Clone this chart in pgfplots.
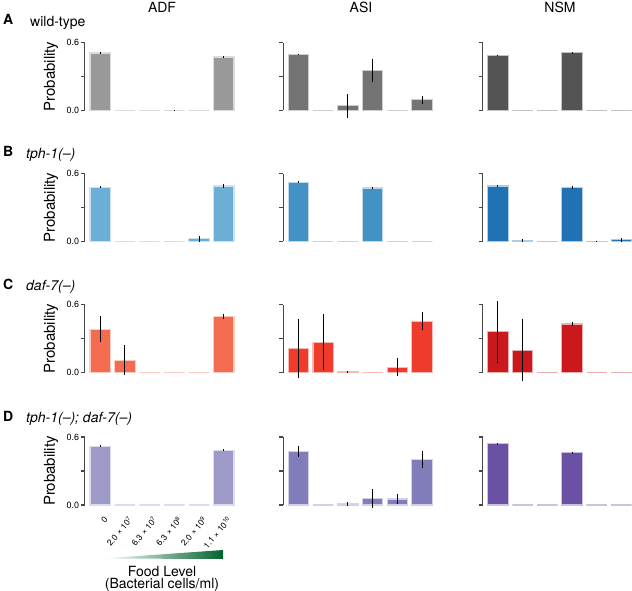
\documentclass[border=0pt]{standalone}
\usepackage{pgfplots}
\pgfplotsset{compat=1.18}
\usepackage{pgfplotstable}
\usepackage{fontspec}
\setmainfont{TeX Gyre Heros}

\definecolor{cAa}{RGB}{153,153,153}
\definecolor{cAb}{RGB}{116,116,116}
\definecolor{cAc}{RGB}{84,84,84}
\definecolor{cBa}{RGB}{107,174,214}
\definecolor{cBb}{RGB}{66,146,198}
\definecolor{cBc}{RGB}{33,113,181}
\definecolor{cCa}{RGB}{244,108,80}
\definecolor{cCb}{RGB}{239,59,44}
\definecolor{cCc}{RGB}{203,24,29}
\definecolor{cDa}{RGB}{158,154,200}
\definecolor{cDb}{RGB}{128,125,186}
\definecolor{cDc}{RGB}{106,81,163}
\definecolor{wedgegreen}{RGB}{0,100,45}

% Row A: wild-type
\pgfplotstableread{
x y e
0 0.507 0.005
1 0 0
2 0 0
3 0 0.004
4 0 0
5 0.472 0.005
}\tAa
\pgfplotstableread{
x y e
0 0.496 0.006
1 0 0
2 0.042 0.105
3 0.353 0.104
4 0 0
5 0.095 0.036
}\tAb
\pgfplotstableread{
x y e
0 0.487 0.005
1 0 0
2 0 0
3 0.511 0.005
4 0 0
5 0 0
}\tAc
% Row B: tph-1
\pgfplotstableread{
x y e
0 0.480 0.007
1 0 0
2 0 0
3 0 0
4 0.024 0.025
5 0.490 0.015
}\tBa
\pgfplotstableread{
x y e
0 0.524 0.006
1 0 0
2 0 0
3 0.472 0.008
4 0 0
5 0 0
}\tBb
\pgfplotstableread{
x y e
0 0.490 0.008
1 0.010 0.010
2 0 0
3 0.476 0.012
4 0.003 0.005
5 0.015 0.015
}\tBc
% Row C: daf-7
\pgfplotstableread{
x y e
0 0.382 0.116
1 0.108 0.133
2 0 0
3 0 0
4 0 0
5 0.495 0.025
}\tCa
\pgfplotstableread{
x y e
0 0.213 0.259
1 0.268 0.250
2 0.005 0.010
3 0 0
4 0.047 0.080
5 0.454 0.078
}\tCb
\pgfplotstableread{
x y e
0 0.358 0.270
1 0.198 0.277
2 0 0
3 0.428 0.015
4 0 0
5 0 0
}\tCc
% Row D: tph-1; daf-7
\pgfplotstableread{
x y e
0 0.518 0.010
1 0 0
2 0 0
3 0 0
4 0 0
5 0.483 0.010
}\tDa
\pgfplotstableread{
x y e
0 0.474 0.050
1 0 0
2 0.009 0.015
3 0.055 0.085
4 0.053 0.046
5 0.401 0.073
}\tDb
\pgfplotstableread{
x y e
0 0.539 0.006
1 0 0
2 0 0
3 0.463 0.006
4 0 0
5 0 0
}\tDc

\pgfplotsset{
  panel/.style={
    scale only axis, width=151.2pt, height=68pt,
    xmin=-0.62, xmax=5.5, ymin=0, ymax=0.6,
    clip=false,
    axis y line*=left, axis x line*=bottom,
    x axis line style={draw=none},
    y axis line style={-, draw=black!72, line width=1.1pt},
    xtick=\empty,
    xtick style={draw=none},
    ytick={0,0.3,0.6}, yticklabels={},
    tick align=outside, major tick length=4pt,
    ytick style={draw=black!72, line width=1.1pt},
    yticklabel style={font=\fontsize{9}{10}\selectfont, inner sep=1.5pt},
    ybar, bar width=20.5pt,
    anchor=south west,
  },
}

\newcommand{\panel}[4]{%
\begin{axis}[panel, at={#1}, #4]
\addplot[fill=#2, draw=#2!35!white, line width=1.1pt,
  error bars/.cd, y dir=both, y explicit, error mark=none,
  error bar style={black, line width=1pt}]
  table[x=x, y=y, y error=e] {#3};
\end{axis}}

\begin{document}
\begin{tikzpicture}
\useasboundingbox (0pt,0pt) rectangle (632pt,-591pt);

% column titles
\node[anchor=base, font=\fontsize{14}{16}\selectfont] at (162pt,-13pt) {ADF};
\node[anchor=base, font=\fontsize{14}{16}\selectfont] at (361pt,-13pt) {ASI};
\node[anchor=base, font=\fontsize{14}{16}\selectfont] at (560pt,-13pt) {NSM};

% row labels
\node[anchor=base west, inner sep=0, font=\fontsize{14}{16}\selectfont\bfseries] at (3pt,-25pt) {A};
\node[anchor=base west, inner sep=0, font=\fontsize{14}{16}\selectfont] at (30pt,-27pt) {wild-type};
\node[anchor=base west, inner sep=0, font=\fontsize{14}{16}\selectfont\bfseries] at (3pt,-157pt) {B};
\node[anchor=base west, inner sep=0, font=\fontsize{14}{16}\selectfont\itshape] at (26pt,-158pt) {tph-1(–)};
\node[anchor=base west, inner sep=0, font=\fontsize{14}{16}\selectfont\bfseries] at (3pt,-289pt) {C};
\node[anchor=base west, inner sep=0, font=\fontsize{14}{16}\selectfont\itshape] at (26pt,-290pt) {daf-7(–)};
\node[anchor=base west, inner sep=0, font=\fontsize{14}{16}\selectfont\bfseries] at (3pt,-421pt) {D};
\node[anchor=base west, inner sep=0, font=\fontsize{14}{16}\selectfont\itshape] at (26pt,-422pt) {tph-1(–); daf-7(–)};

% Probability labels
\node[rotate=90, font=\fontsize{15}{17}\selectfont] at (51pt,-76.5pt) {Probability};
\node[rotate=90, font=\fontsize{15}{17}\selectfont] at (51pt,-207.5pt) {Probability};
\node[rotate=90, font=\fontsize{15}{17}\selectfont] at (51pt,-338.5pt) {Probability};
\node[rotate=90, font=\fontsize{15}{17}\selectfont] at (51pt,-471pt) {Probability};

% Row A
\panel{(84.9pt,-110.5pt)}{cAa}{\tAa}{yticklabels={0.0,,0.6}}
\panel{(283.2pt,-110.5pt)}{cAb}{\tAb}{}
\panel{(482.6pt,-110.5pt)}{cAc}{\tAc}{}
% Row B
\panel{(84.9pt,-241.5pt)}{cBa}{\tBa}{yticklabels={0.0,,0.6}}
\panel{(283.2pt,-241.5pt)}{cBb}{\tBb}{}
\panel{(482.6pt,-241.5pt)}{cBc}{\tBc}{}
% Row C
\panel{(84.9pt,-372.5pt)}{cCa}{\tCa}{yticklabels={0.0,,0.6}}
\panel{(283.2pt,-372.5pt)}{cCb}{\tCb}{}
\panel{(482.6pt,-372.5pt)}{cCc}{\tCc}{}
% Row D
\panel{(84.9pt,-505pt)}{cDa}{\tDa}{yticklabels={0.0,,0.6},
  xtick={0,1,2,3,4,5},
  xticklabels={0, 2.0 × 10\textsuperscript{7}, 6.3 × 10\textsuperscript{7}, 6.3 × 10\textsuperscript{8}, 2.0 × 10\textsuperscript{9}, 1.1 × 10\textsuperscript{10}},
  xticklabel style={rotate=50, anchor=east, font=\fontsize{8.5}{9}\selectfont, inner sep=0pt, yshift=-10pt, xshift=-3pt}}
\panel{(283.2pt,-505pt)}{cDb}{\tDb}{}
\panel{(482.6pt,-505pt)}{cDc}{\tDc}{}

% food level wedge
\shade[left color=white, right color=wedgegreen] (103pt,-558.5pt) -- (223pt,-550pt) -- (223pt,-559pt) -- cycle;
\node[anchor=base, font=\fontsize{14}{16}\selectfont] at (162pt,-576pt) {Food Level};
\node[anchor=base, font=\fontsize{14}{16}\selectfont] at (162pt,-588pt) {(Bacterial cells/ml)};
\end{tikzpicture}
\end{document}
